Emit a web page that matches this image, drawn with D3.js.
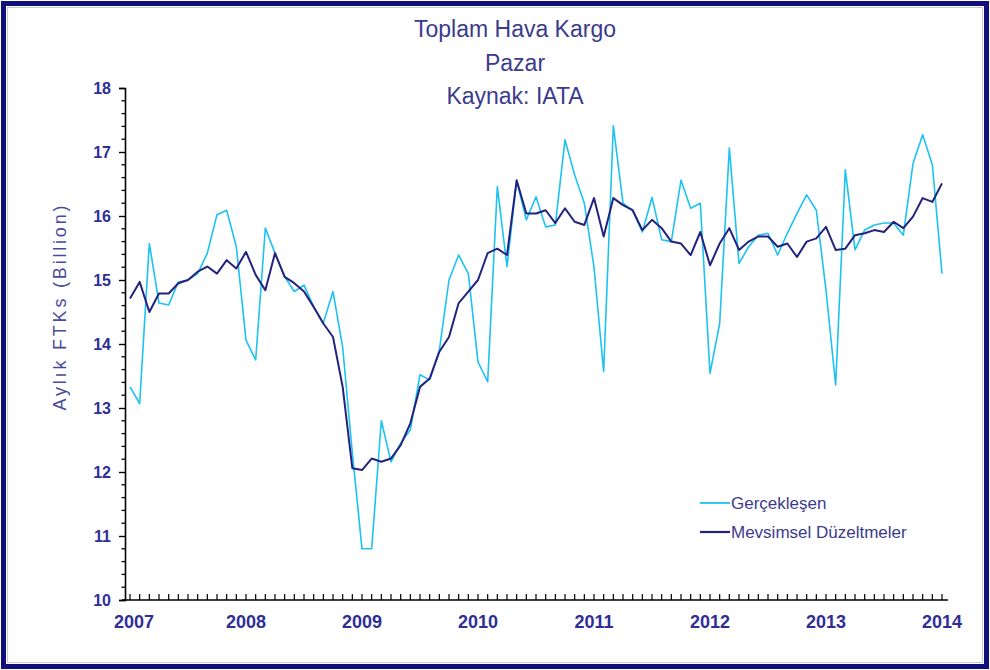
<!DOCTYPE html>
<html>
<head>
<meta charset="utf-8">
<script src="https://cdn.jsdelivr.net/npm/d3@7/dist/d3.min.js"></script>
<style>
  html, body { margin: 0; padding: 0; background: #ffffff; }
  svg { display: block; }
  text { font-family: "Liberation Sans", Arial, sans-serif; }
</style>
</head>
<body>
<svg id="chart" width="990" height="670"></svg>
<script>
// ---- Data (monthly, Jan 2007 .. Jan 2014) ----
const titleLines = ["Toplam Hava Kargo", "Pazar", "Kaynak: IATA"];
const yAxisTitle = "Aylık FTKs (Billion)";
const yearLabels = ["2007", "2008", "2009", "2010", "2011", "2012", "2013", "2014"];
const yTickValues = [10, 11, 12, 13, 14, 15, 16, 17, 18];
const seriesNames = ["Gerçekleşen", "Mevsimsel Düzeltmeler"];

const actual = [
  13.33, 13.07, 15.57, 14.64, 14.61, 14.97, 15.00, 15.10, 15.42, 16.02, 16.09, 15.52,
  14.06, 13.75, 15.81, 15.42, 15.05, 14.82, 14.92, 14.58, 14.33, 14.82, 13.95, 12.30,
  10.80, 10.80, 12.80, 12.16, 12.45, 12.66, 13.52, 13.44, 13.90, 15.00, 15.39, 15.10,
  13.72, 13.41, 16.46, 15.21, 16.55, 15.94, 16.30, 15.83, 15.86, 17.19, 16.64, 16.20,
  15.20, 13.57, 17.41, 16.20, 16.08, 15.75, 16.29, 15.63, 15.60, 16.56, 16.12, 16.20,
  13.54, 14.32, 17.06, 15.26, 15.52, 15.70, 15.73, 15.39, 15.73, 16.04, 16.33, 16.09,
  14.84, 13.36, 16.72, 15.47, 15.78, 15.86, 15.89, 15.89, 15.70, 16.82, 17.27, 16.80,
  15.10
];
const seasonal = [
  14.71, 14.97, 14.50, 14.79, 14.79, 14.95, 15.00, 15.13, 15.21, 15.10, 15.31, 15.18,
  15.44, 15.08, 14.84, 15.42, 15.05, 14.95, 14.82, 14.58, 14.32, 14.11, 13.33, 12.06,
  12.03, 12.21, 12.16, 12.21, 12.42, 12.76, 13.33, 13.46, 13.88, 14.11, 14.64, 14.82,
  15.00, 15.42, 15.49, 15.39, 16.56, 16.04, 16.04, 16.09, 15.89, 16.12, 15.91, 15.86,
  16.28, 15.68, 16.28, 16.17, 16.09, 15.78, 15.94, 15.81, 15.60, 15.57, 15.39, 15.75,
  15.23, 15.57, 15.81, 15.47, 15.60, 15.68, 15.68, 15.52, 15.57, 15.36, 15.60, 15.65,
  15.83, 15.47, 15.49, 15.70, 15.73, 15.78, 15.75, 15.91, 15.81, 15.99, 16.28, 16.22,
  16.51
];

// ---- Styling ----
const W = 990, H = 670;
const colActual = "#1cc3f2";
const colSeasonal = "#23237e";
const colText = "#3b3b8e";
const colLabel = "#2e2e96";

const svg = d3.select("#chart");

// Frame
svg.append("rect")
  .attr("x", 3.5).attr("y", 3.5)
  .attr("width", W - 7).attr("height", H - 7)
  .attr("fill", "#ffffff")
  .attr("stroke", "#10107c")
  .attr("stroke-width", 5);
svg.append("rect")
  .attr("x", 7.5).attr("y", 7.5)
  .attr("width", W - 15).attr("height", H - 15)
  .attr("fill", "none")
  .attr("stroke", "#c8c8dc")
  .attr("stroke-width", 1);

// Scales
const nMonths = actual.length - 1;
const x = d3.scaleLinear().domain([0, nMonths]).range([130, 942]);
const y = d3.scaleLinear().domain([10, 18]).range([600, 88]);
const axisX0 = 125, axisX1 = 948;

// Title
svg.append("g").selectAll("text")
  .data(titleLines)
  .join("text")
  .attr("x", 515)
  .attr("y", (d, i) => 37 + i * 33.5)
  .attr("text-anchor", "middle")
  .attr("font-size", 23)
  .attr("fill", colText)
  .text(d => d);

// Y axis
const yAxis = d3.axisLeft(y)
  .tickValues(yTickValues)
  .tickSize(6)
  .tickPadding(8)
  .tickFormat(d3.format("d"));
const gy = svg.append("g").attr("transform", `translate(${axisX0},0)`).call(yAxis);
gy.select(".domain").attr("stroke", "#000").attr("stroke-width", 1.6);
gy.selectAll(".tick line").attr("stroke", "#000").attr("stroke-width", 1.4);
gy.selectAll(".tick text")
  .attr("font-size", 16).attr("font-weight", "bold")
  .attr("fill", colLabel)
  .attr("font-family", "Liberation Sans, Arial, sans-serif");

// Minor y ticks
const minorY = d3.range(10, 18.001, 0.2).filter(v => Math.abs(v - Math.round(v)) > 1e-6);
svg.append("g").selectAll("line")
  .data(minorY)
  .join("line")
  .attr("x1", axisX0 - 3.5).attr("x2", axisX0)
  .attr("y1", d => y(d)).attr("y2", d => y(d))
  .attr("stroke", "#000").attr("stroke-width", 1.3);

// X axis
svg.append("line")
  .attr("x1", axisX0 - 3).attr("x2", axisX1)
  .attr("y1", y(10)).attr("y2", y(10))
  .attr("stroke", "#000").attr("stroke-width", 1.6);
svg.append("g").selectAll("line")
  .data(d3.range(0, nMonths + 1))
  .join("line")
  .attr("x1", d => x(d)).attr("x2", d => x(d))
  .attr("y1", y(10)).attr("y2", y(10) - 6)
  .attr("stroke", "#000").attr("stroke-width", 1.2);
svg.append("g").selectAll("text")
  .data(yearLabels)
  .join("text")
  .attr("x", (d, i) => x(i * 12) + (i === 0 ? 4 : 0))
  .attr("y", 628)
  .attr("text-anchor", "middle")
  .attr("font-size", 18)
  .attr("font-weight", "bold")
  .attr("fill", colLabel)
  .text(d => d);

// Y axis title
svg.append("text")
  .attr("transform", "translate(66,308) rotate(-90)")
  .attr("text-anchor", "middle")
  .attr("font-size", 18)
  .attr("fill", "#4a4a9c")
  .attr("textLength", 205)
  .attr("lengthAdjust", "spacing")
  .text(yAxisTitle);

// Lines
const line = d3.line()
  .x((d, i) => x(i))
  .y(d => y(d));

svg.append("path")
  .datum(actual)
  .attr("fill", "none")
  .attr("stroke", colActual)
  .attr("stroke-width", 1.6)
  .attr("stroke-linejoin", "round")
  .attr("d", line);

svg.append("path")
  .datum(seasonal)
  .attr("fill", "none")
  .attr("stroke", colSeasonal)
  .attr("stroke-width", 2)
  .attr("stroke-linejoin", "round")
  .attr("d", line);

// Legend
const legend = svg.append("g").attr("transform", "translate(700,503)");
const legendColors = [colActual, colSeasonal];
const legendWidths = [1.8, 2.2];
seriesNames.forEach((name, i) => {
  const g = legend.append("g").attr("transform", `translate(0,${i * 29})`);
  g.append("line")
    .attr("x1", 0).attr("x2", 30)
    .attr("y1", 0).attr("y2", 0)
    .attr("stroke", legendColors[i])
    .attr("stroke-width", legendWidths[i]);
  g.append("text")
    .attr("x", 31).attr("y", 0)
    .attr("dy", "0.35em")
    .attr("font-size", 17)
    .attr("fill", colText)
    .text(name);
});
</script>
</body>
</html>
